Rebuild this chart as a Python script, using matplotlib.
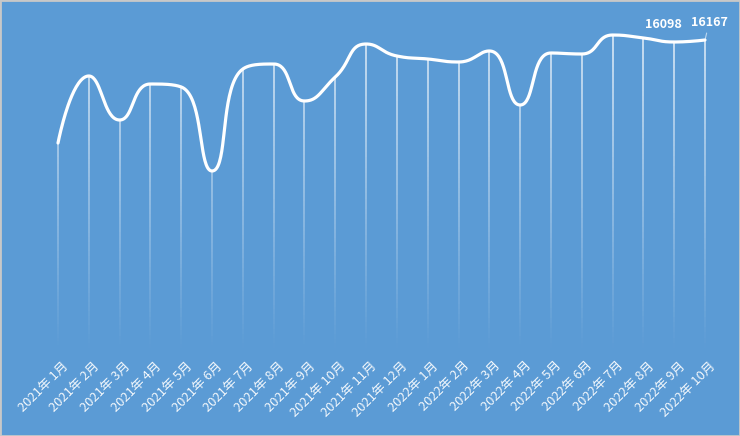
import numpy as np
import matplotlib
matplotlib.use("Agg")
import matplotlib.pyplot as plt
from matplotlib.collections import LineCollection
from matplotlib.patches import Rectangle

plt.rcParams['font.family'] = ['Noto Sans CJK SC', 'DejaVu Sans']

# data
months = ["2021年 1月", "2021年 2月", "2021年 3月", "2021年 4月", "2021年 5月", "2021年 6月",
          "2021年 7月", "2021年 8月", "2021年 9月", "2021年 10月", "2021年 11月", "2021年 12月",
          "2022年 1月", "2022年 2月", "2022年 3月", "2022年 4月", "2022年 5月", "2022年 6月",
          "2022年 7月", "2022年 8月", "2022年 9月", "2022年 10月"]
values = [12613, 14925, 13407, 14649, 14546, 11648, 15167, 15339, 14063, 14891, 16029, 15615,
          15512, 15408, 15788, 13925, 15719, 15684, 16339, 16236, 16098, 16167]
labelled = [20, 21]  # points that carry a value label

bg = '#5b9bd5'
W, H = 740, 436
px_x = 30.81     # pixels per category
px_y = 34.5      # value units per pixel
x0_px = 58       # pixel of first category
ref_px, ref_val = 42, 16098

fig = plt.figure(figsize=(W / 100, H / 100), dpi=100, facecolor=bg)
ax = fig.add_axes([0, 0, 1, 1])
ax.set_facecolor(bg)
ax.set_xlim(-x0_px / px_x, (W - x0_px) / px_x)
ytop = ref_val + ref_px * px_y
ybot = ref_val - (H - ref_px) * px_y
ax.set_ylim(ybot, ytop)
ax.axis('off')

x = np.arange(len(values))
y = np.array(values, dtype=float)


# echarts-like smooth line (control points clamped, so no overshoot)
def smooth_curve(xs, ys, smooth=0.5, n=40):
    P = np.column_stack([xs * px_x, ys / px_y])
    m = len(P)
    cp_in = [None] * m   # control point before each point
    cp_out = [None] * m  # control point after each point
    cp_out[0] = P[0].copy()
    cp_in[m - 1] = P[m - 1].copy()
    for i in range(1, m - 1):
        prv, cur, nxt = P[i - 1], P[i], P[i + 1]
        v = nxt - prv
        l0 = np.hypot(*(cur - prv)); l1 = np.hypot(*(nxt - cur))
        r = l1 / (l0 + l1)
        c_out = cur + v * smooth * r
        c_out = np.minimum(c_out, np.maximum(nxt, cur))
        c_out = np.maximum(c_out, np.minimum(nxt, cur))
        v = c_out - cur
        c_in = cur - v * l0 / l1
        c_in = np.minimum(c_in, np.maximum(prv, cur))
        c_in = np.maximum(c_in, np.minimum(prv, cur))
        v = cur - c_in
        c_out = cur + v * l1 / l0
        cp_in[i], cp_out[i] = c_in, c_out
    t = np.linspace(0, 1, n)[:, None]
    out = []
    for i in range(m - 1):
        p0, c0, c1, p1 = P[i], cp_out[i], cp_in[i + 1], P[i + 1]
        seg = (1 - t) ** 3 * p0 + 3 * (1 - t) ** 2 * t * c0 + 3 * (1 - t) * t ** 2 * c1 + t ** 3 * p1
        out.append(seg if i == 0 else seg[1:])
    c = np.vstack(out)
    return c[:, 0] / px_x, c[:, 1] * px_y


# fading drop lines
base = ytop - 348 * px_y
top_fade = ytop - 40 * px_y
for xi, yi in zip(x, y):
    ys = np.linspace(base, yi, 60)
    segs = [[(xi, ys[k]), (xi, ys[k + 1])] for k in range(len(ys) - 1)]
    mid = (ys[:-1] + ys[1:]) / 2
    a = np.clip((mid - base) / (top_fade - base), 0, 1) * 0.85
    cols = [(1, 1, 1, aa) for aa in a]
    ax.add_collection(LineCollection(segs, colors=cols, linewidths=1.1))

sx, sy = smooth_curve(x, y)
ax.plot(sx, sy, color='white', lw=2.3, solid_capstyle='round', zorder=5)

# month labels
for xi, lab in zip(x, months):
    ax.annotate(lab, xy=(xi, base), xytext=(3, -8), textcoords='offset points',
                rotation=45, rotation_mode='anchor', ha='right', va='top',
                fontsize=9.3, color='white', alpha=0.92)

# value labels
ax.annotate(f"{values[labelled[0]]}", xy=(x[labelled[0]], y[labelled[0]]), xytext=(-8, 8),
            textcoords='offset points', ha='center', va='bottom', fontsize=9,
            fontweight='bold', color='white')
ax.annotate(f"{values[labelled[1]]}", xy=(x[labelled[1]], y[labelled[1]]), xytext=(3, 8),
            textcoords='offset points', ha='center', va='bottom', fontsize=9,
            fontweight='bold', color='white',
            arrowprops=dict(arrowstyle='-', color='white', alpha=0.6, lw=0.8,
                            shrinkA=1, shrinkB=1))

fig.patches.append(Rectangle((0, 0), 1, 1, transform=fig.transFigure, fill=False,
                             edgecolor='#c8c8c8', lw=2))

fig.savefig('out.png', dpi=100, facecolor=bg)
